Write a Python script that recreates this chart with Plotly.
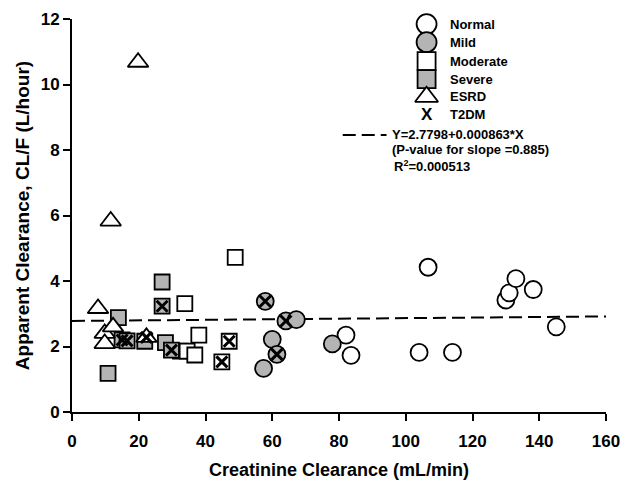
import plotly.graph_objects as go

# ---------------- data ----------------
normal_x = [82.1, 83.6, 104.0, 106.7, 114.0, 130.0, 131.0, 133.0, 138.2, 145.1]
normal_y = [2.35, 1.73, 1.82, 4.42, 1.82, 3.42, 3.64, 4.07, 3.74, 2.60]

mild_x = [57.4, 57.9, 60.0, 61.4, 64.1, 67.2, 78.0]
mild_y = [1.33, 3.38, 2.22, 1.76, 2.78, 2.82, 2.08]

moderate_x = [32.5, 33.8, 34.5, 36.8, 38.0, 44.9, 47.1, 48.9]
moderate_y = [1.86, 3.31, 1.86, 1.74, 2.35, 1.53, 2.16, 4.72]

severe_x = [10.8, 13.9, 15.0, 16.5, 21.8, 27.0, 27.0, 28.0, 29.8]
severe_y = [1.18, 2.88, 2.20, 2.17, 2.16, 3.97, 3.23, 2.12, 1.89]

esrd_x = [7.8, 9.8, 9.8, 11.6, 12.3, 19.8, 22.3]
esrd_y = [3.16, 2.40, 2.09, 5.83, 2.60, 10.68, 2.28]

t2dm_x = [15.0, 16.5, 22.3, 27.0, 29.8, 44.9, 47.1, 57.9, 61.4, 64.1]
t2dm_y = [2.20, 2.17, 2.28, 3.23, 1.89, 1.53, 2.16, 3.38, 1.76, 2.78]

reg_intercept = 2.7798
reg_slope = 0.000863
reg_x = [0, 160]

group_names = ["Normal", "Mild", "Moderate", "Severe", "ESRD", "T2DM"]
eq_lines = ["Y=2.7798+0.000863*X", "(P-value for slope =0.885)", "R<sup>2</sup>=0.000513"]

x_ticks = [0, 20, 40, 60, 80, 100, 120, 140, 160]
y_ticks = [0, 2, 4, 6, 8, 10, 12]

# ---------------- styles ----------------
FONT = "Liberation Sans, Arial, sans-serif"
GRAY = "#b4b4b4"
EDGE = dict(color="black", width=1.8)

fig = go.Figure()

# regression line
fig.add_trace(go.Scatter(
    x=reg_x, y=[reg_intercept + reg_slope * v for v in reg_x],
    mode="lines", line=dict(color="black", width=2, dash="13px,6px"),
    showlegend=False, hoverinfo="skip"))

def pts(x, y, symbol, fill, size):
    fig.add_trace(go.Scatter(x=x, y=y, mode="markers", showlegend=False, cliponaxis=False,
                             marker=dict(symbol=symbol, size=size, color=fill, line=EDGE)))

pts(normal_x, normal_y, "circle", "white", 17)
pts(mild_x, mild_y, "circle", GRAY, 17)
pts(moderate_x, moderate_y, "square", "white", 15)
pts(severe_x, severe_y, "square", GRAY, 15)
pts(esrd_x, esrd_y, "triangle-up", "white", 18)
fig.add_trace(go.Scatter(x=t2dm_x, y=t2dm_y, mode="markers", showlegend=False, cliponaxis=False,
                         marker=dict(symbol="x-thin", size=11, line=dict(color="black", width=3))))

# legend (manual) on an overlay axis in plot-area fractions
leg_sym_x = 0.664
leg_text_x = 0.705
leg_rows = [0.987, 0.941, 0.893, 0.847, 0.802, 0.758]
leg_styles = [("circle", "white", 20), ("circle", GRAY, 20), ("square", "white", 18),
              ("square", GRAY, 18), ("triangle-up", "white", 20)]
for (sym, fill, sz), yy in zip(leg_styles, leg_rows[:5]):
    fig.add_trace(go.Scatter(x=[leg_sym_x], y=[yy], xaxis="x2", yaxis="y2", mode="markers",
                             showlegend=False, cliponaxis=False,
                             marker=dict(symbol=sym, size=sz, color=fill, line=EDGE)))

annotations = []
for name, yy in zip(group_names, leg_rows):
    annotations.append(dict(xref="paper", yref="paper", x=leg_text_x, y=yy, text=name,
                            showarrow=False, xanchor="left", yanchor="middle",
                            font=dict(family=FONT, size=13, color="black", weight="bold")))
annotations.append(dict(xref="paper", yref="paper", x=leg_sym_x, y=leg_rows[5], text="X",
                        showarrow=False, xanchor="center", yanchor="middle",
                        font=dict(family=FONT, size=17, color="black", weight="bold")))
eq_pos = [(0.595, 0.705), (0.595, 0.667), (0.599, 0.626)]
for t, (xx, yy) in zip(eq_lines, eq_pos):
    annotations.append(dict(xref="paper", yref="paper", x=xx, y=yy, text=t,
                            showarrow=False, xanchor="left", yanchor="middle",
                            font=dict(family=FONT, size=13, color="black", weight="bold")))

shapes = [dict(type="line", xref="paper", yref="paper", x0=0.507, x1=0.589, y0=0.705, y1=0.705,
               line=dict(color="black", width=2, dash="13px,6px"))]

fig.update_layout(
    width=623, height=480,
    margin=dict(l=72, r=17, t=19, b=68, autoexpand=False),
    paper_bgcolor="white", plot_bgcolor="white",
    font=dict(family=FONT, color="black"),
    annotations=annotations, shapes=shapes,
    xaxis=dict(range=[0, 160], tickvals=x_ticks, showgrid=False, zeroline=False,
               showline=True, linecolor="black", linewidth=2, automargin=False,
               ticks="outside", ticklen=7, tickwidth=2, tickcolor="black",
               ticklabelstandoff=6,
               tickfont=dict(family=FONT, size=17, weight="bold"),
               title=dict(text="Creatinine Clearance (mL/min)", standoff=14,
                          font=dict(family=FONT, size=18, weight="bold"))),
    yaxis=dict(range=[0, 12], tickvals=y_ticks, showgrid=False, zeroline=False,
               showline=True, linecolor="black", linewidth=2, automargin=False,
               ticks="outside", ticklen=7, tickwidth=2, tickcolor="black",
               tickfont=dict(family=FONT, size=17, weight="bold"),
               title=dict(text="Apparent Clearance, CL/F (L/hour)", standoff=6,
                          font=dict(family=FONT, size=19, weight="bold"))),
    xaxis2=dict(overlaying="x", range=[0, 1], visible=False, anchor="y2"),
    yaxis2=dict(overlaying="y", range=[0, 1], visible=False, anchor="x2"),
)

fig.write_html("out.html", config={"displayModeBar": False},
               post_script="document.body.style.margin='0';")
